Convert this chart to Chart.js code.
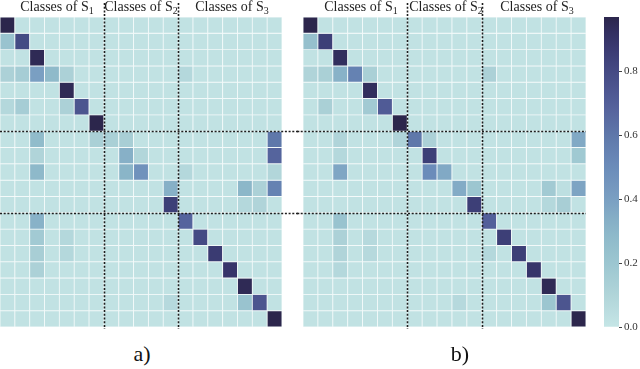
<!DOCTYPE html>
<html><head><meta charset="utf-8">
<script src="https://cdn.jsdelivr.net/npm/chart.js@4/dist/chart.umd.min.js"></script>
<style>
html,body{margin:0;padding:0;background:#fff;width:640px;height:369px;overflow:hidden;position:relative;font-family:"Liberation Serif",serif;}
.box{position:absolute;top:0;}
canvas{display:block;}
.t{position:absolute;top:0;font-size:14px;line-height:14px;color:#222;white-space:nowrap;transform:translateX(-50%);}
.t span{font-size:10px;position:relative;top:3px;}
.lab{position:absolute;top:342px;font-size:22px;line-height:24px;color:#111;transform:translateX(-50%);}
</style></head><body>
<div class="box" style="left:0;width:305px;height:340px"><canvas id="ca" width="305" height="340"></canvas></div>
<div class="box" style="left:292px;width:300px;height:340px"><canvas id="cb" width="300" height="340"></canvas></div>
<div class="box" style="left:598px;width:42px;height:340px"><canvas id="cc" width="42" height="340"></canvas></div>
<div class="t" style="left:57px">Classes of S<span>1</span></div>
<div class="t" style="left:141px">Classes of S<span>2</span></div>
<div class="t" style="left:232px">Classes of S<span>3</span></div>
<div class="t" style="left:361px">Classes of S<span>1</span></div>
<div class="t" style="left:446px">Classes of S<span>2</span></div>
<div class="t" style="left:537px">Classes of S<span>3</span></div>
<div class="lab" style="left:142px">a)</div>
<div class="lab" style="left:460px">b)</div>
<script>
// ---- data ----
const classes = ['0','1','2','3','4','5','6','7','8','9','10','11','12','13','14','15','16','17','18'];
const groupSizes = [7, 5, 7];
const cbTicks = [0.0, 0.2, 0.4, 0.6, 0.8];
const cbMax = 0.97;

const matrixA = [
 [0.97,0.02,0.02,0.02,0.02,0.02,0.02,0.02,0.02,0.02,0.02,0.02,0.02,0.02,0.02,0.02,0.02,0.02,0.02],
 [0.22,0.80,0.02,0.02,0.02,0.02,0.02,0.02,0.02,0.02,0.02,0.02,0.02,0.02,0.02,0.02,0.02,0.02,0.02],
 [0.02,0.02,0.95,0.02,0.02,0.02,0.02,0.02,0.02,0.02,0.02,0.02,0.02,0.02,0.02,0.02,0.02,0.02,0.02],
 [0.12,0.15,0.40,0.28,0.12,0.02,0.02,0.02,0.02,0.02,0.02,0.02,0.08,0.02,0.02,0.02,0.02,0.02,0.02],
 [0.02,0.02,0.02,0.02,0.95,0.02,0.02,0.02,0.02,0.02,0.02,0.02,0.02,0.02,0.02,0.02,0.02,0.02,0.02],
 [0.08,0.15,0.02,0.02,0.12,0.75,0.02,0.02,0.02,0.02,0.02,0.02,0.02,0.02,0.02,0.02,0.02,0.02,0.02],
 [0.02,0.02,0.02,0.02,0.02,0.02,0.97,0.02,0.02,0.02,0.02,0.02,0.02,0.02,0.02,0.02,0.02,0.02,0.02],
 [0.02,0.02,0.27,0.02,0.02,0.02,0.13,0.13,0.14,0.02,0.02,0.02,0.02,0.02,0.02,0.02,0.02,0.02,0.60],
 [0.02,0.02,0.10,0.02,0.02,0.02,0.02,0.02,0.33,0.09,0.02,0.02,0.02,0.02,0.02,0.02,0.02,0.02,0.68],
 [0.02,0.02,0.29,0.02,0.02,0.02,0.02,0.02,0.31,0.47,0.02,0.02,0.08,0.02,0.02,0.02,0.02,0.02,0.09],
 [0.02,0.02,0.02,0.02,0.02,0.02,0.02,0.02,0.02,0.02,0.02,0.33,0.02,0.02,0.02,0.02,0.30,0.12,0.55],
 [0.02,0.02,0.02,0.02,0.02,0.02,0.02,0.02,0.02,0.02,0.02,0.85,0.02,0.02,0.02,0.02,0.08,0.10,0.02],
 [0.02,0.02,0.32,0.02,0.02,0.02,0.02,0.02,0.02,0.02,0.02,0.02,0.68,0.02,0.02,0.02,0.02,0.02,0.02],
 [0.02,0.02,0.17,0.02,0.08,0.02,0.02,0.02,0.02,0.02,0.02,0.02,0.02,0.80,0.02,0.02,0.02,0.02,0.02],
 [0.02,0.02,0.14,0.02,0.08,0.02,0.02,0.02,0.02,0.02,0.02,0.02,0.02,0.02,0.87,0.02,0.02,0.02,0.02],
 [0.02,0.02,0.12,0.02,0.02,0.02,0.02,0.02,0.02,0.02,0.02,0.02,0.02,0.02,0.02,0.90,0.02,0.02,0.02],
 [0.02,0.02,0.02,0.02,0.02,0.02,0.02,0.02,0.02,0.02,0.02,0.02,0.02,0.02,0.02,0.02,0.95,0.02,0.02],
 [0.02,0.02,0.02,0.02,0.02,0.02,0.02,0.02,0.02,0.02,0.02,0.07,0.02,0.02,0.02,0.02,0.22,0.75,0.02],
 [0.02,0.02,0.02,0.02,0.02,0.02,0.02,0.02,0.02,0.02,0.02,0.02,0.02,0.02,0.02,0.02,0.02,0.02,0.97]
];

const matrixB = [
 [0.97,0.02,0.02,0.02,0.02,0.02,0.02,0.02,0.02,0.02,0.02,0.02,0.02,0.02,0.02,0.02,0.02,0.02,0.02],
 [0.24,0.85,0.02,0.02,0.02,0.02,0.02,0.02,0.02,0.02,0.02,0.02,0.02,0.02,0.02,0.02,0.02,0.02,0.02],
 [0.02,0.02,0.93,0.02,0.02,0.02,0.02,0.02,0.02,0.02,0.02,0.02,0.02,0.02,0.02,0.02,0.02,0.02,0.02],
 [0.10,0.13,0.32,0.55,0.13,0.02,0.02,0.02,0.02,0.02,0.02,0.02,0.12,0.02,0.02,0.02,0.02,0.02,0.02],
 [0.02,0.02,0.02,0.02,0.93,0.02,0.02,0.02,0.02,0.02,0.02,0.02,0.02,0.02,0.02,0.02,0.02,0.02,0.02],
 [0.02,0.13,0.02,0.02,0.17,0.72,0.02,0.02,0.02,0.02,0.02,0.02,0.02,0.02,0.02,0.02,0.02,0.02,0.02],
 [0.02,0.02,0.02,0.02,0.02,0.02,0.97,0.02,0.02,0.02,0.02,0.02,0.02,0.02,0.02,0.02,0.02,0.02,0.02],
 [0.02,0.02,0.10,0.02,0.02,0.02,0.10,0.60,0.12,0.02,0.02,0.02,0.02,0.02,0.02,0.02,0.02,0.02,0.36],
 [0.02,0.02,0.08,0.02,0.02,0.02,0.02,0.02,0.85,0.02,0.02,0.02,0.02,0.02,0.02,0.02,0.02,0.02,0.18],
 [0.02,0.02,0.37,0.02,0.02,0.02,0.02,0.02,0.50,0.36,0.02,0.02,0.02,0.02,0.02,0.02,0.02,0.02,0.02],
 [0.02,0.02,0.02,0.02,0.02,0.02,0.02,0.02,0.02,0.02,0.35,0.20,0.02,0.02,0.02,0.02,0.17,0.04,0.38],
 [0.02,0.02,0.02,0.02,0.02,0.02,0.02,0.02,0.02,0.02,0.02,0.85,0.02,0.02,0.02,0.02,0.08,0.14,0.02],
 [0.02,0.02,0.22,0.02,0.02,0.02,0.02,0.02,0.02,0.02,0.02,0.02,0.70,0.02,0.02,0.02,0.02,0.02,0.02],
 [0.02,0.02,0.12,0.02,0.07,0.02,0.02,0.02,0.02,0.02,0.02,0.02,0.02,0.85,0.02,0.02,0.02,0.02,0.02],
 [0.02,0.02,0.10,0.02,0.07,0.02,0.02,0.02,0.02,0.02,0.02,0.02,0.08,0.02,0.85,0.02,0.02,0.02,0.02],
 [0.02,0.02,0.08,0.02,0.02,0.02,0.02,0.02,0.02,0.02,0.02,0.02,0.02,0.02,0.02,0.90,0.02,0.02,0.02],
 [0.02,0.02,0.02,0.02,0.02,0.02,0.02,0.02,0.02,0.02,0.02,0.02,0.02,0.02,0.02,0.02,0.95,0.02,0.02],
 [0.02,0.02,0.02,0.02,0.02,0.02,0.02,0.02,0.02,0.02,0.07,0.02,0.02,0.02,0.02,0.02,0.20,0.75,0.02],
 [0.02,0.02,0.02,0.02,0.02,0.02,0.02,0.02,0.02,0.02,0.02,0.02,0.02,0.02,0.02,0.02,0.02,0.02,0.97]
];

// ---- colour map (light cyan -> dark navy) ----
const cmapStops = [
 [0.0,[197,230,230]],[0.1,[176,212,217]],[0.2,[156,198,208]],[0.3,[140,183,201]],
 [0.4,[122,159,194]],[0.5,[107,140,186]],[0.6,[95,120,170]],[0.7,[83,95,154]],
 [0.8,[68,74,132]],[0.9,[54,52,106]],[1.0,[40,32,63]]
];
function cmap(v){
  v=Math.max(0,Math.min(1,v));
  for(let i=1;i<cmapStops.length;i++){
    const [a,ca]=cmapStops[i-1],[b,cb]=cmapStops[i];
    if(v<=b){const t=(v-a)/(b-a);
      const c=ca.map((x,k)=>Math.round(x+(cb[k]-x)*t));
      return `rgb(${c[0]},${c[1]},${c[2]})`;}
  }
  const c=cmapStops[cmapStops.length-1][1];return `rgb(${c[0]},${c[1]},${c[2]})`;
}

const cuts=[];{let s=0;for(let i=0;i<groupSizes.length-1;i++){s+=groupSizes[i];cuts.push(s);}}

function dottedPlugin(hx0, hx1){
  return {id:'dotted',afterDatasetsDraw(chart){
    const ctx=chart.ctx,xs=chart.scales.x,ys=chart.scales.y,ca=chart.chartArea;
    ctx.save();ctx.setLineDash([2,1.7]);ctx.lineWidth=1.6;ctx.strokeStyle='#1e1e1e';
    cuts.forEach(c=>{
      const x=Math.round(xs.getPixelForValue(c-0.5))+0.5;
      ctx.beginPath();ctx.moveTo(x,3);ctx.lineTo(x,ca.bottom+2);ctx.stroke();
      const y=Math.round(ys.getPixelForValue(c))+0.5;
      ctx.beginPath();ctx.moveTo(hx0(ca),y);ctx.lineTo(hx1(ca),y);ctx.stroke();
    });
    ctx.restore();
  }};
}

function panel(id, matrix, padding, plugin){
  const datasets=matrix.map((row,r)=>({
    data:row.map(()=>[r,r+1]),
    backgroundColor:row.map(v=>cmap(v)),
    borderColor:'#f2f9f9',borderWidth:0.8,borderSkipped:false,
    grouped:false,categoryPercentage:1,barPercentage:1
  }));
  new Chart(document.getElementById(id),{
    type:'bar',
    data:{labels:classes,datasets},
    options:{responsive:false,animation:false,devicePixelRatio:1,
      layout:{padding},
      scales:{x:{type:'category',offset:true,display:false},
              y:{type:'linear',min:0,max:19,reverse:true,display:false}},
      plugins:{legend:{display:false},tooltip:{enabled:false}}},
    plugins:[plugin]
  });
}

panel('ca',matrixA,{left:0,top:17,right:23,bottom:13},dottedPlugin(ca=>0,ca=>300));
panel('cb',matrixB,{left:11,top:17,right:6,bottom:13},dottedPlugin(ca=>ca.left-6,ca=>ca.right));

new Chart(document.getElementById('cc'),{
  type:'bar',
  data:{labels:['colorbar'],datasets:[{
    data:[[0,cbMax]],borderWidth:0,categoryPercentage:1,barPercentage:1,
    backgroundColor:(c)=>{
      const ch=c.chart,ys=ch.scales.y;if(!ch.chartArea||!ys)return cmap(0.5);
      const y0=ys.getPixelForValue(0),y1=ys.getPixelForValue(cbMax);
      const g=ch.ctx.createLinearGradient(0,y0,0,y1);
      for(let i=0;i<=20;i++){const v=i/20*cbMax;g.addColorStop(i/20,cmap(v));}
      return g;
    }
  }]},
  options:{responsive:false,animation:false,devicePixelRatio:1,
    layout:{padding:{left:6,top:17,right:0,bottom:13}},
    scales:{
      x:{display:false,offset:true},
      y:{position:'right',min:0,max:cbMax,
        afterBuildTicks:s=>{s.ticks=cbTicks.map(v=>({value:v}));},
        afterFit:s=>{s.width=21;},
        ticks:{callback:v=>Number(v).toFixed(1),font:{family:'Liberation Serif',size:11},color:'#333',padding:2},
        grid:{drawOnChartArea:false,drawTicks:true,tickLength:3,color:'#444',lineWidth:1},
        border:{display:false}}
    },
    plugins:{legend:{display:false},tooltip:{enabled:false}}}
});
</script>
</body></html>
